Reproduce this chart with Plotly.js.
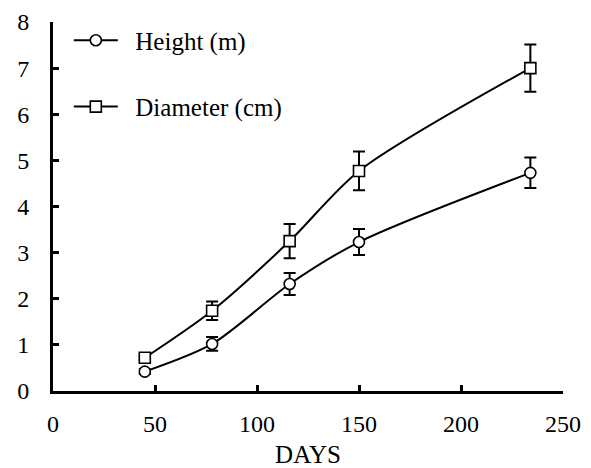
<!DOCTYPE html>
<html><head><meta charset="utf-8">
<script src="https://cdn.plot.ly/plotly-3.0.1.min.js"></script>
<style>html,body{margin:0;padding:0;background:#fff}</style>
</head><body><div id="chart" style="width:591px;height:468px"></div>
<script>
const days = [45, 78, 116, 150, 234];
const height = [0.42, 1.02, 2.32, 3.23, 4.73];
const heightErr = [0.05, 0.15, 0.24, 0.28, 0.33];
const diameter = [0.72, 1.74, 3.25, 4.77, 7.0];
const diameterErr = [0.05, 0.2, 0.37, 0.42, 0.51];
const seriesNames = ['Height (m)', 'Diameter (cm)'];
const xTicks = [0, 50, 100, 150, 200, 250];
const yTicks = [0, 1, 2, 3, 4, 5, 6, 7, 8];

const FAM = 'Liberation Serif';
const mkFont = (size) => ({family: FAM, size: size, color: '#000'});
const errStyle = (arr) => ({type: 'data', array: arr, visible: true, color: '#000', thickness: 2, width: 6});
const PAD = '\u00a0\u00a0';

const traces = [
  {x: days, y: height, name: PAD + seriesNames[0], type: 'scatter', mode: 'lines+markers',
   line: {color: '#000', width: 2, shape: 'spline', smoothing: 0.8},
   marker: {symbol: 'circle', size: 11, color: '#fff', line: {color: '#000', width: 1.6}},
   error_y: errStyle(heightErr)},
  {x: days, y: diameter, name: PAD + seriesNames[1], type: 'scatter', mode: 'lines+markers',
   line: {color: '#000', width: 2, shape: 'spline', smoothing: 0.8},
   marker: {symbol: 'square', size: 11, color: '#fff', line: {color: '#000', width: 1.6}},
   error_y: errStyle(diameterErr), legend: 'legend2'}
];

const layout = {
  width: 591, height: 468,
  margin: {l: 53, r: 28, t: 22, b: 77},
  paper_bgcolor: '#fff', plot_bgcolor: '#fff',
  font: mkFont(24),
  showlegend: true,
  legend: {x: 0.031, y: 0.95, xanchor: 'left', yanchor: 'middle', itemwidth: 44, bgcolor: 'rgba(0,0,0,0)', font: mkFont(25)},
  legend2: {x: 0.031, y: 0.77, xanchor: 'left', yanchor: 'middle', itemwidth: 44, bgcolor: 'rgba(0,0,0,0)', font: mkFont(25)},
  xaxis: {range: [0, 250], tickvals: xTicks, ticktext: xTicks.map(String),
    showgrid: false, zeroline: false, showline: true, linecolor: '#000', linewidth: 3,
    ticks: 'inside', ticklen: 6, tickwidth: 3, tickcolor: '#000',
    tickfont: mkFont(24), ticklabelstandoff: 9,
    title: {text: 'DAYS', font: mkFont(25), standoff: 11}},
  yaxis: {range: [0, 8], tickvals: yTicks, ticktext: yTicks.map(String),
    showgrid: false, zeroline: false, showline: true, linecolor: '#000', linewidth: 3,
    ticks: 'inside', ticklen: 6, tickwidth: 3, tickcolor: '#000',
    tickfont: mkFont(24), ticklabelstandoff: 16}
};

async function main() {
  try { await document.fonts.load('24px "Liberation Serif"'); } catch (e) {}
  const gd = await Plotly.newPlot('chart', traces, layout, {displayModeBar: false, staticPlot: true});
  await Plotly.relayout(gd, {'xaxis.range': [0, 250], 'yaxis.range': [0, 8]});
}
main();
</script></body></html>
